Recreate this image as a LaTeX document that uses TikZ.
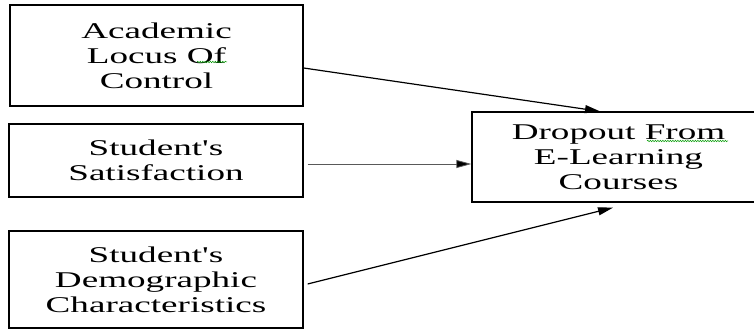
\documentclass[tikz,border=0pt]{standalone}
\usepackage{fontspec}
\setmainfont{Liberation Serif}
\usetikzlibrary{arrows.meta,decorations.pathmorphing}
\newcommand{\wline}[1]{\scalebox{1.65}[1]{#1}}
\begin{document}
\begin{tikzpicture}[x=1pt,y=-1pt,
  box/.style={draw=black,line width=1.3pt,align=center,inner sep=0pt,
    font=\fontsize{22.5}{25}\selectfont},
  link/.style={line width=1.2pt,-{Triangle[length=15pt,width=8pt]}},
  thinlink/.style={draw=black!65,line width=0.8pt,-{Triangle[length=15pt,width=8pt,fill=black]}},
  squig/.style={draw=green!60!black,line width=0.5pt,decorate,
    decoration={snake,amplitude=0.7pt,segment length=2.5pt}}]
\useasboundingbox (0,0) rectangle (754,331);
\node[box,minimum width=293pt,minimum height=101pt] (b1) at (156.5,55.5)
  {\wline{Academic}\\\wline{Locus Of}\\\wline{Control}};
\node[box,minimum width=294pt,minimum height=73pt] (b2) at (156,160.5)
  {\wline{Student\textquotesingle s}\\\wline{Satisfaction}};
\node[box,minimum width=294pt,minimum height=97pt] (b3) at (156,279.5)
  {\wline{Student\textquotesingle s}\\\wline{Demographic}\\\wline{Characteristics}};
\node[box,minimum width=293pt,minimum height=90pt] (out) at (618.5,157)
  {\wline{Dropout From}\\\wline{E-Learning}\\\wline{Courses}};
\draw[link] ([yshift=-12.5pt]b1.east) -- ([xshift=-18.5pt]out.north);
\draw[thinlink] ([xshift=4pt,yshift=-3.5pt]b2.east) -- ([yshift=-7pt]out.west);
\draw[link] ([xshift=4pt,yshift=-4.5pt]b3.east) -- ([xshift=-5.5pt,yshift=-5pt]out.south);
\draw[squig] (197,62) -- (227,62);
\draw[squig] (647,141) -- (728,141);
\end{tikzpicture}
\end{document}
